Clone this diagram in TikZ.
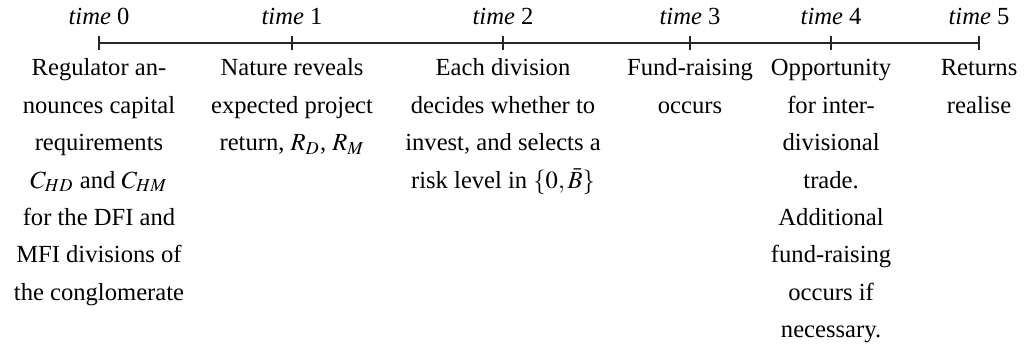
\documentclass[tikz,border=0pt]{standalone}
\usepackage{mathptmx}
\usepackage{fontspec}
\setmainfont{Liberation Serif}
\usetikzlibrary{positioning}

\begin{document}
\begin{tikzpicture}
\tikzstyle{stamp}=[anchor=base,inner sep=0pt,font=\fontsize{10}{12}\selectfont]
\tikzstyle{event}=[anchor=base,align=center,inner sep=0pt,font=\fontsize{10}{15.2}\selectfont]
\tikzstyle{axis}=[line width=0.6pt,draw=black!85]
\useasboundingbox (0,0) rectangle (14.672,5.043);

% Points on the time line
\coordinate (T0) at (1.414,4.429);
\coordinate (T1) at (4.172,4.429);
\coordinate (T2) at (7.186,4.429);
\coordinate (T3) at (9.858,4.429);
\coordinate (T4) at (11.873,4.429);
\coordinate (T5) at (13.987,4.429);

\draw[axis] (T0) -- (T5);
\draw[axis] ([yshift=1mm]T0) -- ([yshift=-1mm]T0);
\draw[axis] ([yshift=1mm]T1) -- ([yshift=-1mm]T1);
\draw[axis] ([yshift=1mm]T2) -- ([yshift=-1mm]T2);
\draw[axis] ([yshift=1mm]T3) -- ([yshift=-1mm]T3);
\draw[axis] ([yshift=1mm]T4) -- ([yshift=-1mm]T4);
\draw[axis] ([yshift=1mm]T5) -- ([yshift=-1mm]T5);

% Dates above the line
\node (L0) [stamp] at ([yshift=2.57mm]T0) {\textit{time} 0};
\node (L1) [stamp] at ([yshift=2.57mm]T1) {\textit{time} 1};
\node (L2) [stamp] at ([yshift=2.57mm]T2) {\textit{time} 2};
\node (L3) [stamp] at ([yshift=2.57mm]T3) {\textit{time} 3};
\node (L4) [stamp] at ([yshift=2.57mm]T4) {\textit{time} 4};
\node (L5) [stamp] at ([yshift=2.57mm]T5) {\textit{time} 5};

% Events below the line (anchored at their last baseline)
\node (E0) [event] at ([yshift={-4.71mm-6*15.2pt}]T0) {Regulator an-\\nounces capital\\requirements\\$C_{HD}$ and $C_{HM}$\\for the DFI and\\MFI divisions of\\the conglomerate};
\node (E1) [event] at ([yshift={-4.71mm-2*15.2pt}]T1) {Nature reveals\\expected project\\return, $R_D$, $R_M$};
\node (E2) [event] at ([yshift={-4.71mm-3*15.2pt}]T2) {Each division\\decides whether to\\invest, and selects a\\risk level in $\{0,\bar{B}\}$};
\node (E3) [event] at ([yshift={-4.71mm-1*15.2pt}]T3) {Fund-raising\\occurs};
\node (E4) [event] at ([yshift={-4.71mm-7*15.2pt}]T4) {Opportunity\\for inter-\\divisional\\trade.\\Additional\\fund-raising\\occurs if\\necessary.};
\node (E5) [event] at ([yshift={-4.71mm-1*15.2pt}]T5) {Returns\\realise};

\end{tikzpicture}
\end{document}
